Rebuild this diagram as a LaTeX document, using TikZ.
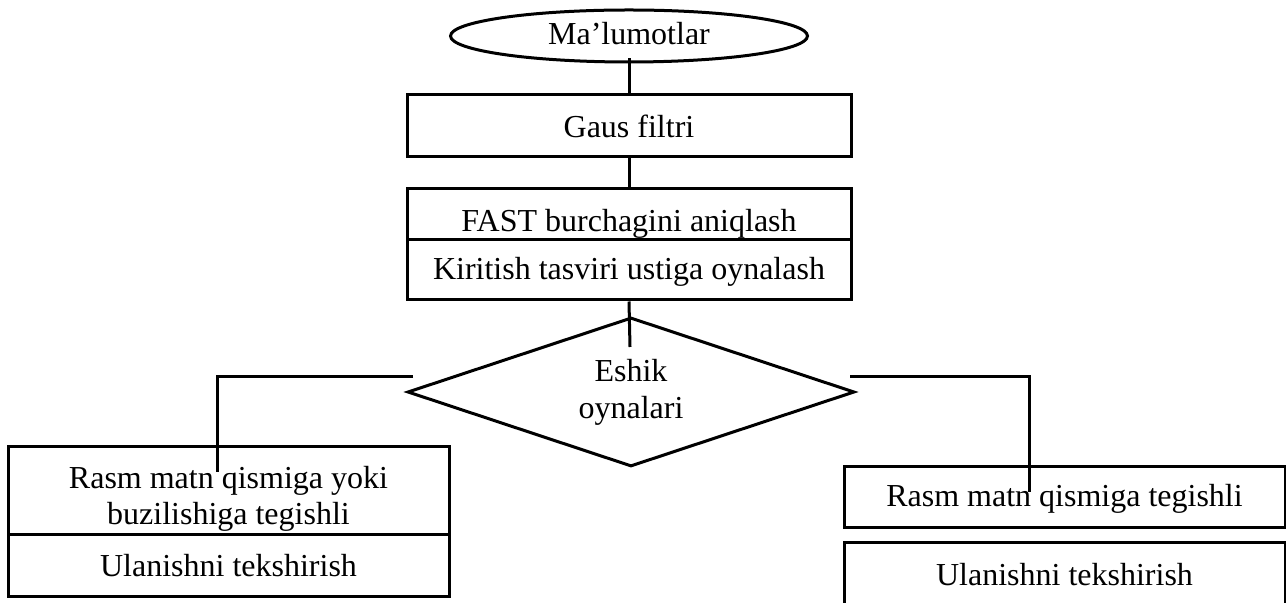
\documentclass[tikz,border=0pt]{standalone}
\usepackage{fontspec}
\setmainfont{Liberation Serif}
\usetikzlibrary{shapes.geometric}

\begin{document}
\begin{tikzpicture}[x=0.5pt, y=-0.5pt,
  blk/.style  = {draw, line width=1.5pt, inner sep=0pt, align=center,
                 font=\fontsize{16}{18.4}\selectfont},
  ell/.style  = {blk, ellipse, minimum width=178.5pt, minimum height=26pt},
  rmb/.style  = {blk, diamond, aspect=3, minimum width=223.5pt, minimum height=74.5pt},
  asos/.style = {text depth=0pt, text height=#1},
  lnk/.style  = {line width=1.5pt}
]
\useasboundingbox (0,0) rectangle (1286,603);

% --- markaziy ustun ---
\node[ell, asos=9pt] (mal) at (629,36) {Ma’lumotlar};
\node[blk, minimum width=222pt, minimum height=31pt] (gaus) at (629,126) {Gaus filtri};
\node[blk, asos=17.5pt, minimum width=222pt, minimum height=25.5pt] (fast) at (629,214.5) {FAST burchagini aniqlash};
\node[blk, asos=10pt, minimum width=222pt, minimum height=30pt] (kir) at (629,270) {Kiritish tasviri ustiga oynalash};
\node[rmb] (eshik) at (631,392) {Eshik\\oynalari};

% --- chap tomon ---
\node[blk, asos=34pt, minimum width=220.5pt, minimum height=44pt] (chap1) at (228.5,491) {Rasm matn qismiga yoki\\buzilishiga tegishli};
\node[blk, minimum width=220.5pt, minimum height=31pt] (chap2) at (228.5,566) {Ulanishni tekshirish};

% --- o'ng tomon ---
\node[blk, asos=9.5pt, minimum width=220.5pt, minimum height=30.5pt] (ong1) at (1064.5,497.5) {Rasm matn qismiga tegishli};
\node[blk, minimum width=220.5pt, minimum height=32pt] (ong2) at (1064.5,575) {Ulanishni tekshirish};

% --- bog'lanishlar ---
\coordinate (dstub) at (630,347);
\coordinate (lfree) at (413,377);
\coordinate (lend)  at (217,472);
\coordinate (rfree) at (850,377);
\coordinate (rend)  at (1029,492);

\draw[lnk] ([yshift=2.5pt]mal.south) -- (gaus.north);
\draw[lnk] (gaus.south) -- (fast.north);
\draw[lnk] (kir.south) -- (dstub);
\draw[lnk] (lfree) -| (lend);
\draw[lnk] (rfree) -| (rend);
\end{tikzpicture}
\end{document}
